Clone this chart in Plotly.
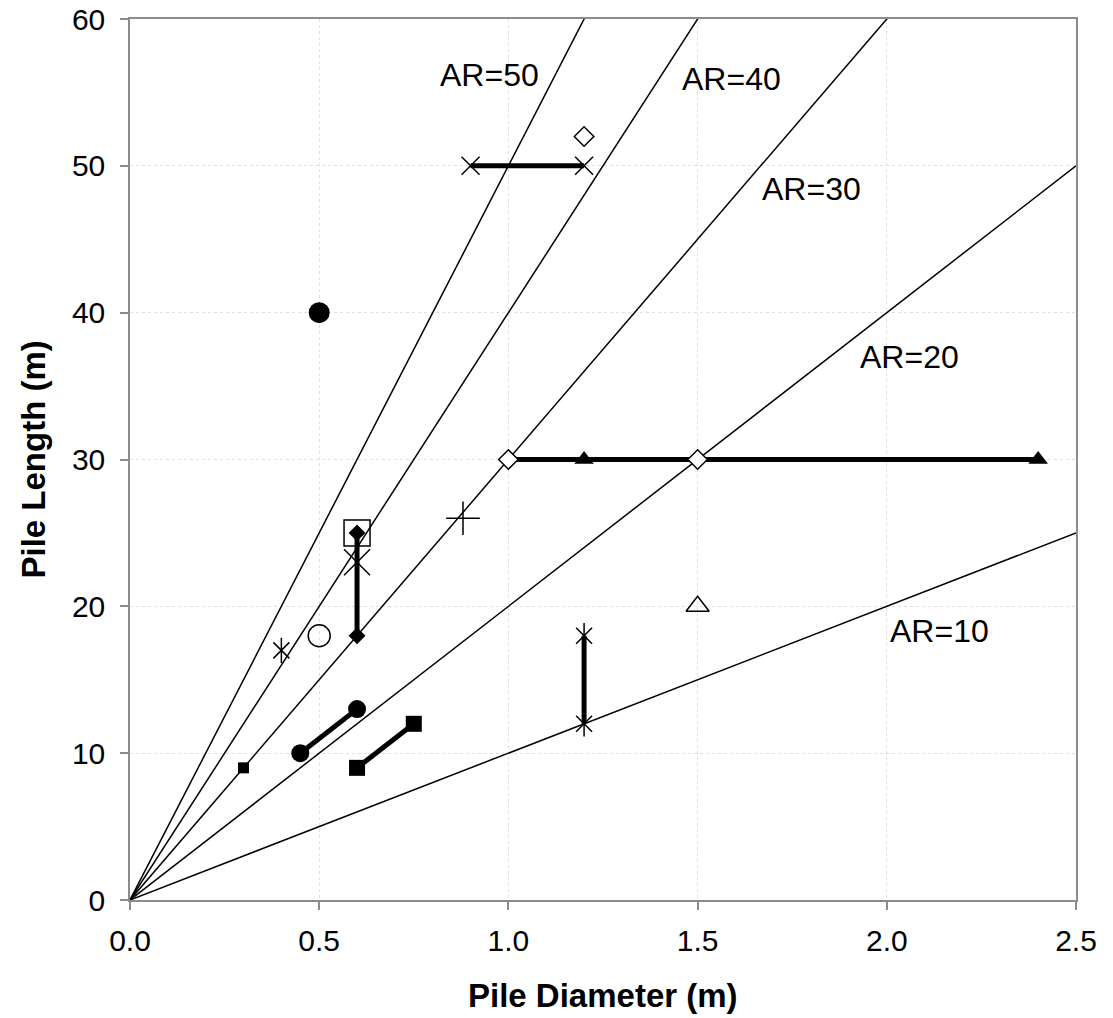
import plotly.graph_objects as go

# Aspect-ratio reference lines (L = AR * D)
aspect_ratios = [10, 20, 30, 40, 50]
ar_label_x = [2.14, 2.06, 1.80, 1.59, 0.95]
ar_label_y = [18.3, 37.0, 48.4, 55.9, 56.2]
diam_range = [0.0, 2.5]

# Data series (diameter, length)
sq_small_x, sq_small_y = [0.3], [9]
circ_line_x, circ_line_y = [0.45, 0.6], [10, 13]
sq_line_x, sq_line_y = [0.6, 0.75], [9, 12]
big_circ_x, big_circ_y = [0.5], [40]
open_circ_x, open_circ_y = [0.5], [18]
star_x, star_y = [0.4], [17]
diam_line_x, diam_line_y = [0.6, 0.6], [18, 25]
open_sq_x, open_sq_y = [0.6], [25]
big_x_x, big_x_y = [0.6], [23]
plus_x, plus_y = [0.88], [26]
x_line_x, x_line_y = [0.9, 1.2], [50, 50]
open_diam_x, open_diam_y = [1.2], [52]
odiam_line_x, odiam_line_y = [1.0, 1.5], [30, 30]
tri_line_x, tri_line_y = [1.2, 2.4], [30, 30]
star_line_x, star_line_y = [1.2, 1.2], [12, 18]
open_tri_x, open_tri_y = [1.5], [20]

FONT = "Liberation Sans, Arial, sans-serif"
fig = go.Figure()

for ar in aspect_ratios:
    fig.add_trace(go.Scatter(x=diam_range, y=[ar * d for d in diam_range], mode="lines",
                             line=dict(color="black", width=1.5), showlegend=False, hoverinfo="skip"))

def add(x, y, symbol, size, mode="markers", lw=1.5, line_w=5, fill="black"):
    fig.add_trace(go.Scatter(
        x=x, y=y, mode=mode, showlegend=False,
        line=dict(color="black", width=line_w),
        marker=dict(symbol=symbol, size=size, color=fill,
                    line=dict(color="black", width=lw))))

add(tri_line_x, tri_line_y, "triangle-up", 17, mode="lines+markers", lw=0)
add(odiam_line_x, odiam_line_y, "diamond", 15, mode="lines+markers", lw=1.5, fill="white")
add(circ_line_x, circ_line_y, "circle", 18, mode="lines+markers", lw=0)
add(sq_line_x, sq_line_y, "square", 16, mode="lines+markers", lw=0)
add(diam_line_x, diam_line_y, "diamond", 13, mode="lines+markers", lw=0)
add(x_line_x, x_line_y, "x-thin-open", 18, mode="lines+markers", lw=1.5)
add(star_line_x, star_line_y, "x-thin-open", 16, mode="lines+markers", lw=1.5)
add(star_line_x, star_line_y, "line-ns-open", 18, lw=1.5)
add(sq_small_x, sq_small_y, "square", 11, lw=0)
add(big_circ_x, big_circ_y, "circle", 21, lw=0)
add(open_circ_x, open_circ_y, "circle-open", 22, lw=1.5)
add(star_x, star_y, "x-thin-open", 16, lw=1.5)
add(star_x, star_y, "line-ns-open", 18, lw=1.5)
add(open_sq_x, open_sq_y, "square-open", 26, lw=1.5)
add(big_x_x, big_x_y, "x-thin-open", 26, lw=1.5)
add(plus_x, plus_y, "cross-thin-open", 24, lw=1.5)
add(open_diam_x, open_diam_y, "diamond-open", 15, lw=1.5)
add(open_tri_x, open_tri_y, "triangle-up-open", 20, lw=1.5)

for ar, lx, ly in zip(aspect_ratios, ar_label_x, ar_label_y):
    fig.add_annotation(x=lx, y=ly, text=f"AR={ar}", showarrow=False,
                       font=dict(family=FONT, size=32, color="black"))

# Axis titles
fig.add_annotation(x=0.5, y=-0.108, xref="paper", yref="paper", text="<b>Pile Diameter (m)</b>",
                   showarrow=False, xanchor="center", yanchor="middle",
                   font=dict(family=FONT, size=33, color="black"))
fig.add_annotation(x=-0.1025, y=0.5, xref="paper", yref="paper", text="<b>Pile Length (m)</b>",
                   showarrow=False, xanchor="center", yanchor="middle", textangle=-90,
                   font=dict(family=FONT, size=33, color="black"))

axis_common = dict(showline=True, mirror=True, linecolor="#8c8c8c", linewidth=1.5,
                   ticks="outside", ticklen=8, tickcolor="#8c8c8c", tickwidth=1.5,
                   showgrid=True, gridcolor="#e6dede", griddash="dot", gridwidth=1,
                   zeroline=False, tickfont=dict(family=FONT, size=30, color="black"),
                   automargin=False)

fig.update_xaxes(range=[0, 2.5], dtick=0.5, tickformat=".1f", ticklabelstandoff=5, **axis_common)
fig.update_yaxes(range=[0, 60], dtick=10, ticklabelstandoff=9, **axis_common)

fig.update_layout(width=1113, height=1018, margin=dict(l=130, r=37, t=19, b=118),
                  plot_bgcolor="white", paper_bgcolor="white", showlegend=False)

fig.write_html("out.html")
